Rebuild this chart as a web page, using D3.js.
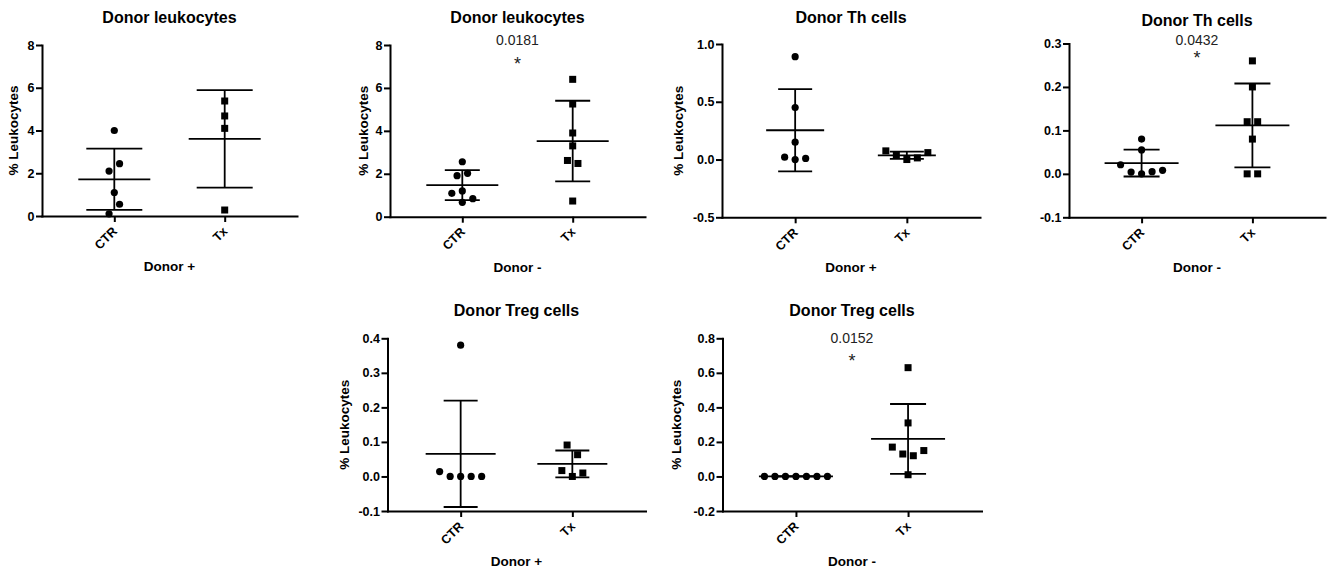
<!DOCTYPE html>
<meta charset="utf-8">
<script src="https://d3js.org/d3.v7.min.js"></script>
<div id="chart"></div>
<style>
  body { margin: 0; background: #fff; }
  text { font-family: "Liberation Sans", Arial, sans-serif; }
</style>
<script>

// ---- data ----
var titles = ["Donor leukocytes", "Donor leukocytes", "Donor Th cells", "Donor Th cells", "Donor Treg cells", "Donor Treg cells"];
var donorLabels = ["Donor +", "Donor -", "Donor +", "Donor -", "Donor +", "Donor -"];
var groups = ["CTR", "Tx"];
var yLabels = ["% Leukocytes", "% Leukocytes", "% Leukocytes", null, "% Leukocytes", "% Leukocytes"];
var pValues = [null, "0.0181", null, "0.0432", null, "0.0152"];

// % of leukocytes, one value per animal
var leukPosCTR = [4.0, 2.1, 2.45, 1.1, 0.1, 0.55];
var leukPosTx  = [5.38, 4.68, 4.1, 0.28];
var leukNegCTR = [2.56, 1.91, 2.02, 1.09, 1.2, 0.67, 0.84];
var leukNegTx  = [6.4, 5.25, 3.9, 3.3, 2.62, 2.48, 0.73];
var thPosCTR   = [0.89, 0.45, 0.15, 0.02, 0.0, 0.01];
var thPosTx    = [0.075, 0.035, 0.0, 0.014, 0.06];
var thNegCTR   = [0.08, 0.055, 0.021, 0.004, 0.0, 0.005, 0.008];
var thNegTx    = [0.26, 0.2, 0.12, 0.12, 0.08, 0.0, 0.0];
var tregPosCTR = [0.38, 0.014, 0, 0, 0, 0];
var tregPosTx  = [0.091, 0.063, 0.017, 0.0, 0.01];
var tregNegCTR = [0, 0, 0, 0, 0, 0, 0];
var tregNegTx  = [0.63, 0.31, 0.17, 0.13, 0.12, 0.15, 0.01];

var panelValues = [
  [leukPosCTR, leukPosTx], [leukNegCTR, leukNegTx],
  [thPosCTR, thPosTx], [thNegCTR, thNegTx],
  [tregPosCTR, tregPosTx], [tregNegCTR, tregNegTx]
];

var yDomains = [[0, 8], [0, 8], [-0.5, 1], [-0.1, 0.3], [-0.1, 0.4], [-0.2, 0.8]];
var yTickStep = [2, 2, 0.5, 0.1, 0.1, 0.2];
var yDecimals = [0, 0, 1, 1, 1, 1];

// ---- layout ----
var W = 1332, H = 571;
var panelLeft   = [42, 390, 722, 1069, 387.5, 722.5];
var panelTop    = [45, 45, 44, 43.5, 338.3, 338.3];
var panelBottom = [216, 216.7, 217.3, 217.3, 511, 511];
var panelWidth  = [255, 255, 258, 256, 258, 259];
var titleGap    = [22, 22, 21, 18, 22, 22];
var yLabelOff   = [29, 27, 44, 0, 43, 46];
var meanHalf    = [36, 36, 29, 37, 35, 37];
var capHalf     = [28, 17.5, 17, 18, 17, 18];
var pGap        = [0, 0, 0, -1.7, 0, -5];
var starGap     = [0, -25, 0, -20.3, 0, -28.3];

var svg = d3.select("#chart")
  .append("svg")
  .attr("width", W)
  .attr("height", H)
  .style("background", "#fff");

// lay points of close values side by side, like a column scatter
function swarmOffsets(values, y, gap, spacing) {
  var idx = d3.range(values.length).sort(function(a, b) { return values[a] - values[b]; });
  var offsets = new Array(values.length);
  var i = 0;
  while (i < idx.length) {
    var y0 = y(values[idx[i]]);
    var row = [idx[i]];
    var j = i + 1;
    while (j < idx.length && Math.abs(y0 - y(values[idx[j]])) <= gap) { row.push(idx[j]); j++; }
    row.sort(function(a, b) { return a - b; });
    row.forEach(function(k, n) { offsets[k] = (n - (row.length - 1) / 2) * spacing; });
    i = j;
  }
  return offsets;
}

panelValues.forEach(function(vals, i) {
  var w = panelWidth[i], h = panelBottom[i] - panelTop[i];
  var g = svg.append("g").attr("transform", "translate(" + panelLeft[i] + "," + panelTop[i] + ")");

  var x = d3.scalePoint().domain(groups).range([0, w]).padding(0.655);
  var y = d3.scaleLinear().domain(yDomains[i]).range([h, 0]);

  var dom = yDomains[i], step = yTickStep[i];
  var nT = Math.round((dom[1] - dom[0]) / step) + 1;
  var ticks = d3.range(nT).map(function(k) { return +(dom[0] + k * step).toFixed(4); });

  // y axis
  var ya = g.append("g")
    .call(d3.axisLeft(y).tickValues(ticks).tickSize(6).tickPadding(1.5).tickSizeOuter(0)
      .tickFormat(function(d) { return d.toFixed(yDecimals[i]); }));
  // x axis
  var xa = g.append("g").attr("transform", "translate(0," + h + ")")
    .call(d3.axisBottom(x).tickSize(6).tickSizeOuter(0));

  [ya, xa].forEach(function(a) {
    a.attr("font-family", "'Liberation Sans', Arial, sans-serif")
      .attr("font-size", 12.5).attr("font-weight", "bold");
    a.select(".domain").attr("stroke-width", 2).attr("stroke-linecap", "square");
    a.selectAll(".tick line").attr("stroke-width", 2);
  });
  xa.selectAll(".tick text")
    .attr("x", 0).attr("y", 0).attr("dy", null)
    .attr("text-anchor", "end")
    .attr("transform", "translate(3,16) rotate(-45)");

  // points
  vals.forEach(function(arr, gi) {
    var cx = x(groups[gi]);
    var off = swarmOffsets(arr, y, 10.2, 10.5);
    if (gi === 0) {
      g.selectAll(null).data(arr).enter().append("circle")
        .attr("cx", function(d, k) { return cx + off[k]; })
        .attr("cy", function(d) { return y(d); })
        .attr("r", 3.6)
        .attr("fill", "#000");
    } else {
      g.selectAll(null).data(arr).enter().append("rect")
        .attr("x", function(d, k) { return cx + off[k] - 3.5; })
        .attr("y", function(d) { return y(d) - 3.5; })
        .attr("width", 7).attr("height", 7)
        .attr("fill", "#000");
    }

    // mean +/- SD
    var m = d3.mean(arr), sd = d3.deviation(arr) || 0;
    var bars = g.append("g").attr("stroke", "#000").attr("stroke-width", 1.8);
    bars.append("line").attr("x1", cx).attr("x2", cx).attr("y1", y(m + sd)).attr("y2", y(m - sd));
    bars.append("line").attr("x1", cx - meanHalf[i]).attr("x2", cx + meanHalf[i]).attr("y1", y(m)).attr("y2", y(m));
    [m + sd, m - sd].forEach(function(v) {
      bars.append("line").attr("x1", cx - capHalf[i]).attr("x2", cx + capHalf[i]).attr("y1", y(v)).attr("y2", y(v));
    });
  });

  // titles and labels
  g.append("text")
    .attr("x", w / 2).attr("y", -titleGap[i])
    .attr("text-anchor", "middle")
    .attr("font-size", 16).attr("font-weight", "bold")
    .text(titles[i]);

  g.append("text")
    .attr("x", w / 2).attr("y", h + 55)
    .attr("text-anchor", "middle")
    .attr("font-size", 13.5).attr("font-weight", "bold")
    .text(donorLabels[i]);

  if (yLabels[i]) {
    g.append("text")
      .attr("transform", "translate(" + (-yLabelOff[i]) + "," + (h / 2) + ") rotate(-90)")
      .attr("dy", "0.35em")
      .attr("text-anchor", "middle")
      .attr("font-size", 13.5).attr("font-weight", "bold")
      .text(yLabels[i]);
  }

  if (pValues[i]) {
    var mx = (x("CTR") + x("Tx")) / 2;
    g.append("text")
      .attr("x", mx).attr("y", -pGap[i])
      .attr("text-anchor", "middle")
      .attr("font-size", 14).attr("fill", "#222")
      .text(pValues[i]);
    g.append("text")
      .attr("x", mx).attr("y", -starGap[i])
      .attr("text-anchor", "middle")
      .attr("font-size", 18).attr("fill", "#222")
      .text("*");
  }
});

</script>
